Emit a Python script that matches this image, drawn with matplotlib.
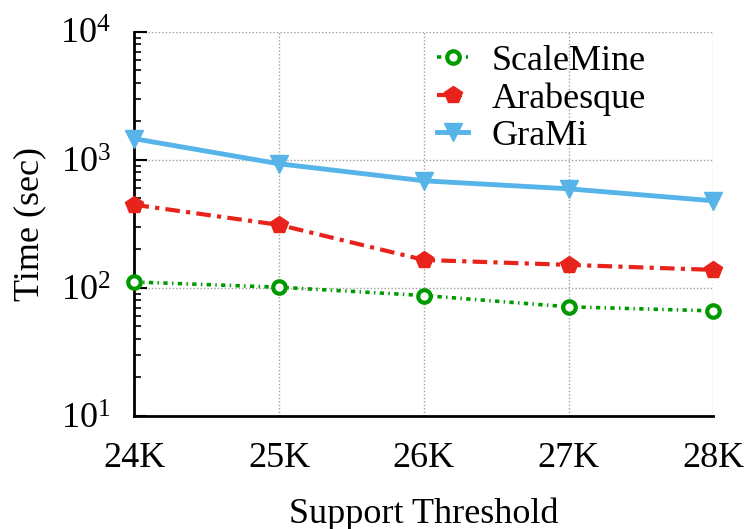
import matplotlib
matplotlib.use("Agg")
from matplotlib import pyplot as plt
from matplotlib.ticker import LogLocator, NullFormatter

plt.rcParams['font.family'] = ['Liberation Serif', 'DejaVu Serif']
plt.rcParams['mathtext.fontset'] = 'stix'

thresholds = ['24K', '25K', '26K', '27K', '28K']
scalemine = [111, 101, 87, 71, 66]
arabesque = [445, 310, 165, 151, 138]
grami = [1460, 930, 685, 593, 478]

x = list(range(len(thresholds)))

fig = plt.figure(figsize=(7.47, 5.29), dpi=100)
ax = fig.add_axes([0.18, 0.214, 0.775, 0.726])

ax.plot(x, scalemine, color='#009a00', lw=2.6, dashes=(1.2, 1.2, 0.4, 1.2),
        marker='o', ms=9, mfc='white', mec='#009a00', mew=3, label='ScaleMine',
        clip_on=False, zorder=3)
ax.plot(x, arabesque, color='#e8231b', lw=3, dashes=(3.5, 1.5, 1, 1.5),
        marker='p', ms=13, mec='#e8231b', mfc='#e8231b', label='Arabesque',
        clip_on=False, zorder=3)
ax.plot(x, grami, color='#56b4e9', lw=3.5, marker='v', ms=13,
        mfc='#56b4e9', mec='#56b4e9', label='GraMi', clip_on=False, zorder=3)

ax.set_yscale('log')
ax.set_ylim(10, 10000)
ax.set_xlim(0, len(thresholds) - 1)
ax.set_xticks(x)
ax.set_xticklabels(thresholds)
ax.yaxis.set_major_locator(LogLocator(base=10, numticks=10))
ax.yaxis.set_minor_locator(LogLocator(base=10, subs=range(2, 10), numticks=10))
ax.yaxis.set_minor_formatter(NullFormatter())

ax.grid(True, which='major', color='#a0a0a0', linestyle=(0, (1, 1.5)), lw=1)
ax.spines['top'].set_visible(False)
ax.spines['right'].set_visible(False)
ax.spines['left'].set_linewidth(2)
ax.spines['bottom'].set_linewidth(2)
ax.tick_params(axis='y', which='major', direction='in', length=9, width=1.5,
               labelsize=26, pad=17)
ax.tick_params(axis='y', which='minor', direction='in', length=5, width=1.2)
ax.tick_params(axis='x', which='major', direction='in', length=0,
               labelsize=26, pad=19)

ax.set_xlabel('Support Threshold', fontsize=26, labelpad=16)
ax.set_ylabel('Time (sec)', fontsize=26, labelpad=10)

leg = ax.legend(loc='upper left', bbox_to_anchor=(0.523, 0.967), fontsize=26,
                frameon=False, handlelength=0.86, handletextpad=0.64,
                labelspacing=0.12, borderaxespad=0, borderpad=0)

plt.savefig('out.png', dpi=100)
